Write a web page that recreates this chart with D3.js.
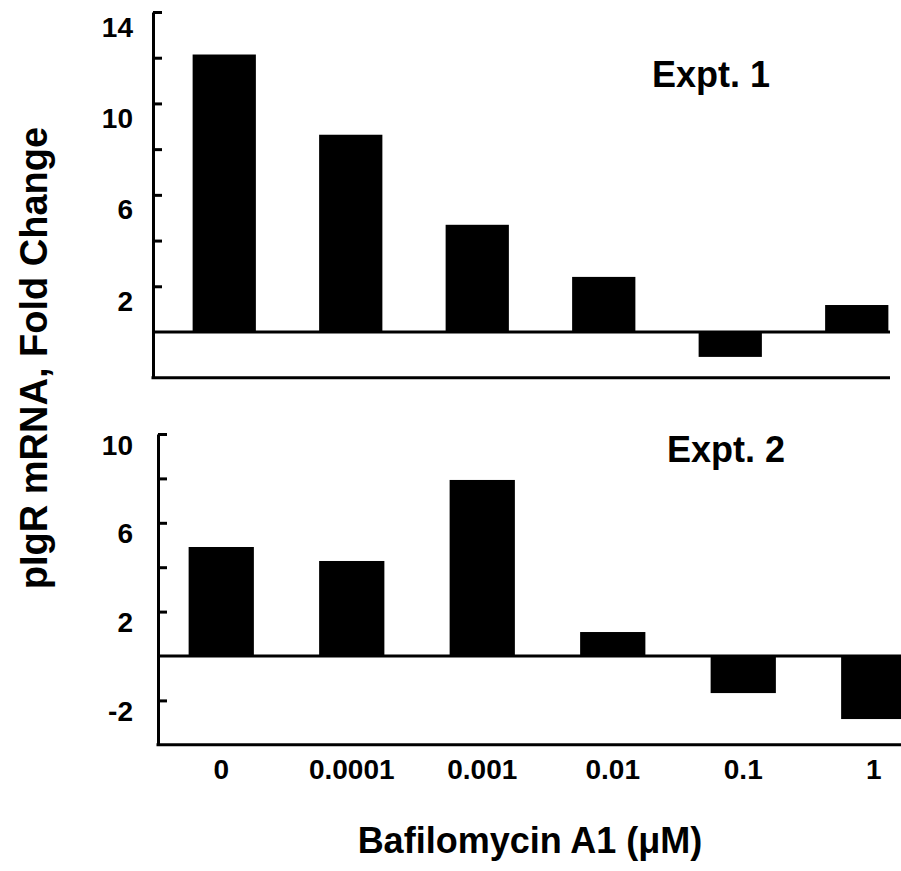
<!DOCTYPE html>
<html>
<head>
<meta charset="utf-8">
<script src="https://cdn.jsdelivr.net/npm/d3@7/dist/d3.min.js"></script>
<style>
  html, body { margin: 0; padding: 0; background: #fff; }
  svg { display: block; }
  text { font-family: "Liberation Sans", Arial, sans-serif; font-weight: bold; fill: #000; }
</style>
</head>
<body>
<svg id="chart" width="901" height="871"></svg>
<script>
// ---- data ----
const categories = ["0", "0.0001", "0.001", "0.01", "0.1", "1"];
const expt1Values = [12.14, 8.63, 4.69, 2.41, -1.09, 1.18];
const expt2Values = [4.91, 4.28, 7.93, 1.08, -1.67, -2.84];
const expt1Ticks = [14, 12, 10, 8, 6, 4, 2];
const expt1TickLabels = [14, 10, 6, 2];
const expt2Ticks = [10, 8, 6, 4, 2, -2];
const expt2TickLabels = [10, 6, 2, -2];
const panelTitles = ["Expt. 1", "Expt. 2"];
const xTitle = "Bafilomycin A1 (\u03BCM)";
const yTitle = "pIgR mRNA, Fold Change";

const svg = d3.select("#chart");

function drawPanel(cfg) {
  const g = svg.append("g");
  const y = d3.scaleLinear().domain(cfg.domain).range(cfg.yRange);
  const x = d3.scaleBand().domain(categories).range(cfg.xRange)
    .paddingInner(0.5).paddingOuter(0.25);

  // bars
  g.selectAll("rect.bar").data(cfg.values).enter().append("rect")
    .attr("class", "bar")
    .attr("x", (d, i) => x(categories[i]))
    .attr("width", x.bandwidth())
    .attr("y", d => Math.min(y(d), y(0)))
    .attr("height", d => Math.abs(y(d) - y(0)))
    .attr("fill", "#000");

  // zero line
  g.append("line")
    .attr("x1", cfg.axisX).attr("x2", cfg.lineEnd)
    .attr("y1", y(0)).attr("y2", y(0))
    .attr("stroke", "#000").attr("stroke-width", 3);

  // bottom line
  g.append("line")
    .attr("x1", cfg.axisX - 1.5).attr("x2", cfg.lineEnd)
    .attr("y1", y(cfg.domain[0])).attr("y2", y(cfg.domain[0]))
    .attr("stroke", "#000").attr("stroke-width", 3);

  // y axis
  const axis = d3.axisLeft(y)
    .tickValues(cfg.ticks)
    .tickSizeInner(-9)
    .tickSizeOuter(0)
    .tickPadding(cfg.labelGap)
    .tickFormat(d => cfg.tickLabels.includes(d) ? d3.format("d")(d).replace("\u2212", "-") : "");
  const ag = g.append("g").attr("transform", `translate(${cfg.axisX},0)`).call(axis);
  ag.select(".domain").attr("stroke", "#000").attr("stroke-width", 3);
  ag.selectAll(".tick line").attr("stroke", "#000").attr("stroke-width", 3);
  ag.selectAll(".tick text")
    .attr("font-family", "'Liberation Sans', Arial, sans-serif")
    .attr("font-weight", "bold")
    .attr("font-size", 28)
    .attr("fill", "#000")
    .attr("dy", cfg.labelDy);

  // panel title
  g.append("text")
    .attr("x", cfg.titleX).attr("y", cfg.titleY)
    .attr("font-size", 36)
    .text(cfg.title);

  return x;
}

drawPanel({
  values: expt1Values, domain: [-2, 14], yRange: [377.7, 12],
  xRange: [161, 920], axisX: 153, lineEnd: 890,
  ticks: expt1Ticks, tickLabels: expt1TickLabels, labelGap: 20, labelDy: 24,
  title: panelTitles[0], titleX: 652, titleY: 87
});

const xBottom = drawPanel({
  values: expt2Values, domain: [-4, 10], yRange: [744.8, 434],
  xRange: [156, 939], axisX: 158, lineEnd: 901,
  ticks: expt2Ticks, tickLabels: expt2TickLabels, labelGap: 25, labelDy: 20,
  title: panelTitles[1], titleX: 667, titleY: 462
});

// x category labels
svg.append("g").selectAll("text").data(categories).enter().append("text")
  .attr("x", d => xBottom(d) + xBottom.bandwidth() / 2)
  .attr("y", 779)
  .attr("text-anchor", "middle")
  .attr("font-size", 28)
  .text(d => d);

// x title
svg.append("text")
  .attr("x", 530).attr("y", 853)
  .attr("text-anchor", "middle")
  .attr("font-size", 36)
  .text(xTitle);

// y title
svg.append("text")
  .attr("transform", "translate(47,358) rotate(-90)")
  .attr("text-anchor", "middle")
  .attr("font-size", 38)
  .text(yTitle);
</script>
</body>
</html>
